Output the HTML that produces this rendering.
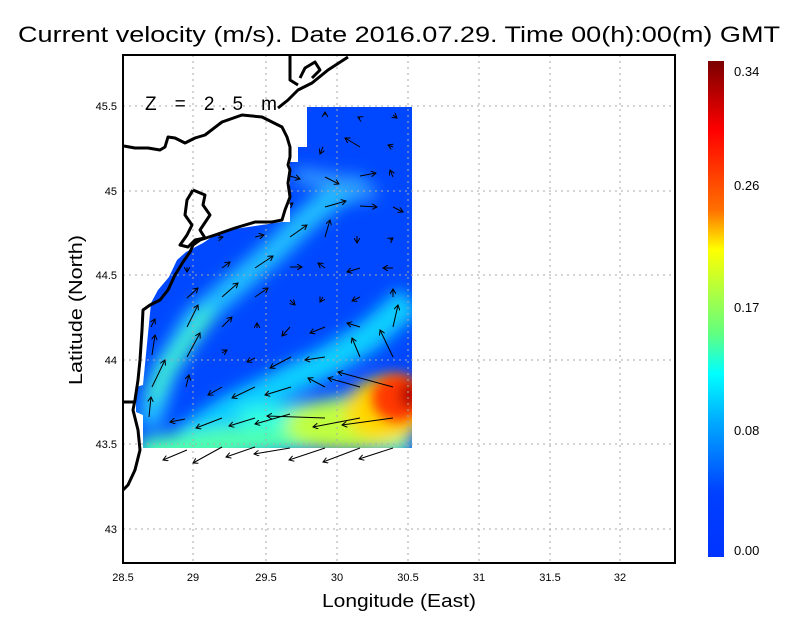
<!DOCTYPE html>
<html><head><meta charset="utf-8"><style>
body{margin:0;background:#fff;width:800px;height:618px;overflow:hidden}
svg{display:block}
text{font-family:"Liberation Sans",sans-serif;fill:#000}
</style></head><body>
<svg width="800" height="618" viewBox="0 0 800 618" xmlns="http://www.w3.org/2000/svg">
<defs>
<clipPath id="dc"><polygon points="307,107 412,107 412,448 143,448 143,415 136,412 136,387 143,385 151,303 158,290 169,277 177,260 186,252 203,243 212,237 228,230 282,222 290,222 290,162 298,162 298,147 307,147"/></clipPath>
<filter id="b1" x="-50%" y="-50%" width="200%" height="200%"><feGaussianBlur stdDeviation="8"/></filter>
<filter id="b2" x="-50%" y="-50%" width="200%" height="200%"><feGaussianBlur stdDeviation="6"/></filter>
<linearGradient id="cb" x1="0" y1="0" x2="0" y2="1">
<stop offset="0" stop-color="#7a0000"/><stop offset="0.14" stop-color="#ff0000"/><stop offset="0.3" stop-color="#ff7000"/><stop offset="0.38" stop-color="#ffff00"/><stop offset="0.55" stop-color="#60ff80"/><stop offset="0.63" stop-color="#00ffff"/><stop offset="0.73" stop-color="#00a8ff"/><stop offset="0.87" stop-color="#0040ff"/><stop offset="1" stop-color="#0033ff"/>
</linearGradient>
<marker id="ah" markerWidth="6" markerHeight="6" refX="5" refY="3" orient="auto" markerUnits="userSpaceOnUse"><path d="M0,0 L5,3 L0,6" fill="none" stroke="#000" stroke-width="1"/></marker>
</defs>
<text x="18" y="42" font-size="22" textLength="762" lengthAdjust="spacingAndGlyphs">Current velocity (m/s). Date 2016.07.29. Time 00(h):00(m) GMT</text>
<g clip-path="url(#dc)">
<rect x="130" y="100" width="290" height="360" fill="#0048ff"/>
<g filter="url(#b1)">
<polyline points="148,425 165,370 195,320 235,285 275,250 305,220 335,195 365,185" fill="none" stroke="#20c0ff" stroke-width="24"/>
<polyline points="150,400 165,370 185,345 210,310" fill="none" stroke="#40f0d0" stroke-width="16"/>
<polyline points="185,440 230,410 290,380 330,360 370,335 410,300" fill="none" stroke="#10d0ff" stroke-width="30"/>
<polyline points="140,455 250,440 330,432 410,440" fill="none" stroke="#50ffb0" stroke-width="32"/>
<polyline points="295,175 340,182 375,195" fill="none" stroke="#3098ff" stroke-width="16"/>
<polyline points="240,420 320,412 380,400" fill="none" stroke="#30ffe0" stroke-width="22"/>
<ellipse cx="345" cy="425" rx="60" ry="26" fill="#c0ff40"/>
<ellipse cx="385" cy="410" rx="40" ry="32" fill="#ffd800"/>
</g>
<g filter="url(#b2)">
<ellipse cx="398" cy="398" rx="26" ry="24" fill="#ff3800"/>
<ellipse cx="410" cy="395" rx="10" ry="14" fill="#b00000"/>
</g>
</g>
<g stroke="#aaa" stroke-dasharray="2,4" stroke-width="1">
<line x1="193" y1="55" x2="193" y2="563"/><line x1="266" y1="55" x2="266" y2="563"/><line x1="337" y1="55" x2="337" y2="563"/><line x1="408" y1="55" x2="408" y2="563"/><line x1="479" y1="55" x2="479" y2="563"/><line x1="550" y1="55" x2="550" y2="563"/><line x1="620" y1="55" x2="620" y2="563"/>
<line x1="123" y1="106" x2="675" y2="106"/><line x1="123" y1="191" x2="675" y2="191"/><line x1="123" y1="275" x2="675" y2="275"/><line x1="123" y1="360" x2="675" y2="360"/><line x1="123" y1="444" x2="675" y2="444"/><line x1="123" y1="529" x2="675" y2="529"/>
</g>
<g fill="none" stroke="#000" stroke-width="3" stroke-linejoin="round">
<polyline points="124,146 135,148 148,148 160,150 165,147 168,137 175,138 185,143 195,138 205,135 222,122 242,115 262,117 282,127 287,137 290,147 290,157 288,165 290,170 288,183 290,197 285,210 282,220 272,222 255,222 235,228 215,235 200,240 193,245 190,252 183,262 175,275 168,290 160,300 150,305 143,310 142,330 140,360 138,380 135,400 133,410 138,430 140,450 135,470 128,485 123,490"/>
<polyline points="123,402 135,402"/>
<polyline points="278,108 288,100 298,90 312,83 328,70 348,57"/>
<polyline points="290,55 290,80 298,85"/>
<polyline points="300,78 305,68 315,62 320,70 312,78"/>
<polyline points="193,190 187,200 185,215 192,225 187,235 180,245 188,247 195,240 205,238 200,230 210,215 203,205 205,195 193,190"/>
</g>
<rect x="123" y="55" width="552" height="508" fill="none" stroke="#000" stroke-width="2"/>
<g stroke="#000" stroke-width="1" marker-end="url(#ah)">
<line x1="187" y1="450" x2="163" y2="460"/><line x1="222" y1="447" x2="193" y2="463"/><line x1="255" y1="447" x2="226" y2="457"/><line x1="290" y1="448" x2="254" y2="454"/><line x1="325" y1="448" x2="289" y2="460"/><line x1="360" y1="448" x2="323" y2="462"/><line x1="393" y1="448" x2="359" y2="459"/>
<line x1="185" y1="419" x2="170" y2="422"/><line x1="222" y1="418" x2="196" y2="428"/><line x1="255" y1="418" x2="229" y2="426"/><line x1="290" y1="414" x2="255" y2="424"/><line x1="325" y1="418" x2="267" y2="416"/><line x1="360" y1="418" x2="313" y2="427"/><line x1="393" y1="418" x2="342" y2="425"/>
<line x1="149" y1="417" x2="151" y2="397"/><line x1="186" y1="387" x2="189" y2="375"/><line x1="222" y1="387" x2="208" y2="395"/><line x1="255" y1="387" x2="232" y2="398"/><line x1="291" y1="387" x2="265" y2="395"/><line x1="325" y1="387" x2="308" y2="378"/><line x1="360" y1="387" x2="328" y2="378"/><line x1="393" y1="387" x2="338" y2="372"/>
<line x1="152" y1="387" x2="165" y2="360"/><line x1="187" y1="357" x2="200" y2="333"/><line x1="222" y1="353" x2="227" y2="350"/><line x1="255" y1="358" x2="247" y2="362"/><line x1="291" y1="357" x2="270" y2="368"/><line x1="325" y1="357" x2="305" y2="360"/><line x1="360" y1="357" x2="352" y2="338"/><line x1="393" y1="357" x2="380" y2="330"/>
<line x1="152" y1="355" x2="155" y2="335"/><line x1="187" y1="327" x2="198" y2="305"/><line x1="222" y1="327" x2="232" y2="317"/><line x1="257" y1="328" x2="257" y2="323"/><line x1="290" y1="327" x2="282" y2="336"/><line x1="325" y1="327" x2="310" y2="333"/><line x1="360" y1="327" x2="347" y2="323"/><line x1="393" y1="327" x2="398" y2="305"/>
<line x1="151" y1="327" x2="155" y2="319"/><line x1="187" y1="298" x2="198" y2="288"/><line x1="222" y1="297" x2="238" y2="283"/><line x1="255" y1="297" x2="268" y2="288"/><line x1="290" y1="300" x2="295" y2="305"/><line x1="323" y1="297" x2="320" y2="302"/><line x1="360" y1="297" x2="352" y2="301"/><line x1="393" y1="297" x2="393" y2="289"/>
<line x1="187" y1="267" x2="187" y2="272"/><line x1="222" y1="268" x2="230" y2="262"/><line x1="255" y1="268" x2="273" y2="256"/><line x1="290" y1="267" x2="302" y2="267"/><line x1="325" y1="268" x2="318" y2="263"/><line x1="360" y1="268" x2="347" y2="272"/><line x1="393" y1="268" x2="383" y2="268"/>
<line x1="218" y1="238" x2="223" y2="237"/><line x1="255" y1="237" x2="264" y2="235"/><line x1="290" y1="237" x2="307" y2="225"/><line x1="325" y1="237" x2="330" y2="220"/><line x1="357" y1="236" x2="357" y2="243"/><line x1="390" y1="240" x2="393" y2="238"/>
<line x1="290" y1="205" x2="293" y2="203"/><line x1="325" y1="207" x2="346" y2="201"/><line x1="360" y1="206" x2="377" y2="207"/><line x1="393" y1="207" x2="403" y2="212"/>
<line x1="290" y1="176" x2="300" y2="179"/><line x1="325" y1="177" x2="339" y2="184"/><line x1="360" y1="176" x2="376" y2="173"/><line x1="393" y1="177" x2="390" y2="170"/>
<line x1="323" y1="147" x2="320" y2="154"/><line x1="360" y1="147" x2="345" y2="138"/><line x1="393" y1="147" x2="388" y2="145"/>
<line x1="325" y1="115" x2="325" y2="112"/><line x1="360" y1="118" x2="358" y2="117"/><line x1="393" y1="115" x2="397" y2="118"/>
</g>
<text x="145" y="110" font-size="19" textLength="132" lengthAdjust="spacing">Z = 2.5 m</text>
<g font-size="11" text-anchor="middle">
<text x="123" y="581">28.5</text><text x="193" y="581">29</text><text x="266" y="581">29.5</text><text x="337" y="581">30</text><text x="408" y="581">30.5</text><text x="479" y="581">31</text><text x="550" y="581">31.5</text><text x="620" y="581">32</text>
</g>
<g font-size="11" text-anchor="end">
<text x="117" y="110">45.5</text><text x="117" y="195">45</text><text x="117" y="279">44.5</text><text x="117" y="364">44</text><text x="117" y="448">43.5</text><text x="117" y="533">43</text>
</g>
<text x="322" y="607" font-size="18" textLength="154" lengthAdjust="spacingAndGlyphs">Longitude (East)</text>
<text transform="translate(82,385) rotate(-90)" font-size="18" textLength="150" lengthAdjust="spacingAndGlyphs">Latitude (North)</text>
<rect x="708" y="61" width="16" height="496" fill="url(#cb)"/>
<g font-size="13">
<text x="734" y="76">0.34</text><text x="734" y="190">0.26</text><text x="734" y="312">0.17</text><text x="734" y="435">0.08</text><text x="734" y="555">0.00</text>
</g>
</svg>
</body></html>
